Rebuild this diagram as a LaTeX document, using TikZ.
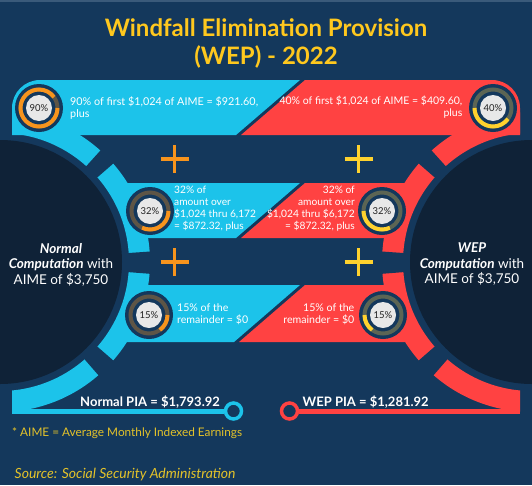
\documentclass[tikz,border=0pt]{standalone}
\usepackage{fontspec}
\setmainfont{Lato}
\usetikzlibrary{calc, positioning}
\definecolor{wepnavy}{HTML}{14385C}
\definecolor{wepdark}{HTML}{0F2237}
\definecolor{weptop}{HTML}{3A5A7A}
\definecolor{wepcyan}{HTML}{1CC3EA}
\definecolor{wepred}{HTML}{FF4242}
\definecolor{weporange}{HTML}{F7941D}
\definecolor{wepyellow}{HTML}{FFD22E}
\definecolor{weptitle}{HTML}{FFC81E}
\definecolor{wepfoot}{HTML}{E3C22A}
\definecolor{weptrackl}{HTML}{5E5546}
\definecolor{weptrackr}{HTML}{5C6554}
\definecolor{wepdisc}{HTML}{E8E8E8}
\definecolor{wepink}{HTML}{222222}

% badge: name, centre, percent, arc colour, track colour, start angle, end angle
\newcommand{\pctbadge}[7]{%
  \fill[wepnavy] (#2) circle (24);
  \draw[#5, line width=4pt] (#2) circle (18.5);
  \draw[#4, line width=4pt] ($(#2)+(#6:18.5)$) arc[start angle=#6, end angle=#7, radius=18.5];
  \node[pctdisc] (#1) at (#2) {#3\%};
}

\begin{document}
\begin{tikzpicture}[
      x=1pt,
      y=1pt,
      titletext/.style={anchor=base, inner sep=0pt, text=weptitle, font=\fontsize{24}{28}\selectfont\bfseries},
      bandtext/.style={inner sep=0pt, text=white, font=\fontsize{10.2}{12}\selectfont},
      pctdisc/.style={circle, fill=wepdisc, minimum size=26pt, inner sep=0pt, text=wepink, font=\fontsize{9.5}{9.5}\selectfont},
      plusmark/.style={line width=3.4pt},
      comptext/.style={inner sep=0pt, text=white, align=center, font=\fontsize{13.5}{15.5}\selectfont},
      pialabel/.style={anchor=base west, inner sep=0pt, text=white, font=\fontsize{13}{13}\selectfont\bfseries},
      piaend/.style={circle, line width=3.5pt, fill=wepnavy, minimum size=16pt, inner sep=0pt},
      notetext/.style={anchor=base west, inner sep=0pt, text=wepfoot}
  ]
    \useasboundingbox (0,0) rectangle (532,-485);
    \fill[wepnavy] (0,0) rectangle (532,-485);
    \fill[weptop] (0,0) rectangle (532,-1.5);
    \clip (0,0) rectangle (532,-485);

    % computation discs
    \fill[wepdark] (0,-262) circle (122);
    \fill[wepdark] (532,-262) circle (122);

    % rings and their cuts
    \begin{scope}
      \clip (12,0) rectangle (266,-485);
      \fill[wepcyan, even odd rule] (0,-262) circle (150) circle (129);
    \end{scope}
    \begin{scope}
      \clip (266,0) rectangle (520,-485);
      \fill[wepred, even odd rule] (532,-262) circle (150) circle (129);
    \end{scope}
    \begin{scope}[shift={(0,-262)}]
      \foreach \a/\b in {41/48, -4.5/4, -49/-41}
        \fill[wepnavy] (\a:124) -- (\a:156) -- (\b:156) -- (\b:124) -- cycle;
    \end{scope}
    \begin{scope}[shift={(532,-262)}]
      \foreach \a/\b in {132/139, 176/184.5, 221/229}
        \fill[wepnavy] (\a:124) -- (\a:156) -- (\b:156) -- (\b:124) -- cycle;
    \end{scope}

    % bands
    \fill[wepcyan] (12,-135) -- (12,-108) arc[start angle=180, end angle=90, radius=28]
      -- (300,-80) -- (236,-135) -- cycle;
    \fill[wepcyan] (127,-183) -- (300,-183) -- (236,-238) -- (127,-238) -- cycle;
    \fill[wepcyan] (127,-285) -- (300,-285) -- (234,-342) -- (127,-342) -- cycle;
    \fill[wepred] (305,-80) -- (492,-80) arc[start angle=90, end angle=0, radius=28]
      -- (520,-135) -- (241,-135) -- cycle;
    \fill[wepred] (305,-183) -- (405,-183) -- (405,-238) -- (241,-238) -- cycle;
    \fill[wepred] (305,-285) -- (405,-285) -- (405,-342) -- (239,-342) -- cycle;

    % results
    \node[piaend, draw=wepcyan] (normalend) at (233.5,-411) {};
    \node[piaend, draw=wepred] (wepend) at (289.5,-411) {};
    \coordinate (normalstart) at (12,-411);
    \coordinate (wepstop) at (520,-411);
    \draw[wepcyan, line width=5pt] (normalstart) -- (normalend.west);
    \draw[wepred, line width=5pt] (wepend.east) -- (wepstop);

    \pctbadge{b90}{39,-108}{90}{weporange}{weptrackl}{0}{-324}
    \pctbadge{b32l}{150,-211}{32}{weporange}{weptrackl}{0}{-115.2}
    \pctbadge{b15l}{149,-315}{15}{weporange}{weptrackl}{0}{-54}
    \pctbadge{b40}{493,-108}{40}{wepyellow}{weptrackr}{180}{324}
    \pctbadge{b32r}{382,-211}{32}{wepyellow}{weptrackr}{180}{295.2}
    \pctbadge{b15r}{383,-315}{15}{wepyellow}{weptrackr}{180}{234}

    \coordinate (plusl1) at (174.5,-159);
    \coordinate (plusl2) at (174.5,-262);
    \coordinate (plusr1) at (358.5,-159);
    \coordinate (plusr2) at (358.5,-262);
    \foreach \p/\c in {plusl1/weporange, plusl2/weporange, plusr1/wepyellow, plusr2/wepyellow}
      \draw[plusmark, \c] ($(\p)+(-14,0)$) -- ($(\p)+(14,0)$) ($(\p)+(0,14)$) -- ($(\p)+(0,-14)$);

    \node[titletext] (title) at (266,-36) {Windfall Elimination Provision};
    \node[titletext] (titleyear) at (266,-64) {(WEP) - 2022};

    \node[bandtext, font=\fontsize{10.8}{12}\selectfont, anchor=west, align=left] (t90) at (70,-107.5)
      {90\% of first \$1,024 of AIME = \$921.60,\\plus};
    \node[bandtext, font=\fontsize{10.5}{12}\selectfont, anchor=east, align=right] (t40) at (462.5,-107.5)
      {40\% of first \$1,024 of AIME = \$409.60,\\plus};
    \node[bandtext, anchor=west, align=left] (t32l) at (174,-209)
      {32\% of\\amount over\\\$1,024 thru 6,172\\= \$872.32, plus};
    \node[bandtext, anchor=east, align=right] (t32r) at (355,-209)
      {32\% of\\amount over\\\$1,024 thru \$6,172\\= \$872.32, plus};
    \node[bandtext, font=\fontsize{10.6}{12}\selectfont, anchor=west, align=left] (t15l) at (177,-314.5)
      {15\% of the\\remainder = \$0};
    \node[bandtext, font=\fontsize{10.6}{12}\selectfont, anchor=east, align=right] (t15r) at (354.5,-314.5)
      {15\% of the\\remainder = \$0};

    \node[comptext] (normaltxt) at (61,-264.5)
      {\textbf{\textit{Normal}}\\\textbf{\textit{Computation}} with\\AIME of \$3,750};
    \node[comptext] (weptxt) at (472,-264.5)
      {\textbf{\textit{WEP}}\\\textbf{\textit{Computation}} with\\AIME of \$3,750};

    \node[pialabel] (normalpia) at (80,-406.5) {Normal PIA = \$1,793.92};
    \node[pialabel] (weppia) at (302.5,-406.5) {WEP PIA = \$1,281.92};

    \node[notetext, font=\fontsize{11.8}{13}\selectfont] (aimenote) at (12,-436.5)
      {* AIME = Average Monthly Indexed Earnings};
    \node[notetext, font=\fontsize{14}{16}\selectfont\itshape] (source) at (14.5,-478)
      {Source: Social Security Administration};
  \end{tikzpicture}
\end{document}
